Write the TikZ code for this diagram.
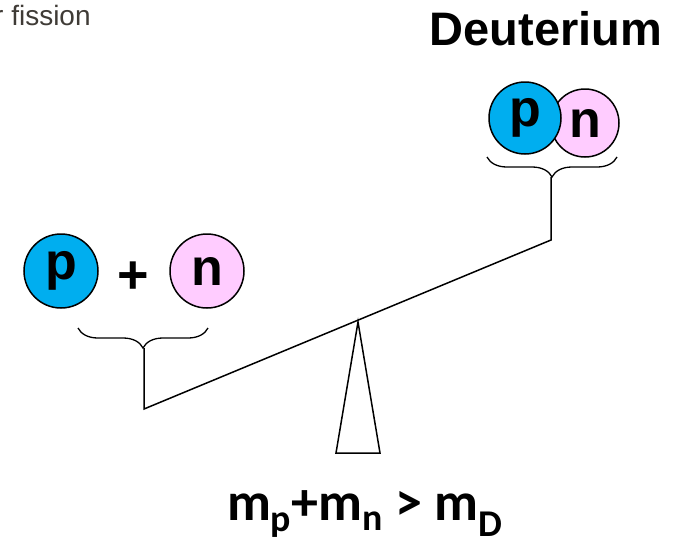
\documentclass[tikz,border=0pt]{standalone}
\usepackage{fontspec}
\setmainfont{Liberation Sans}
\newfontfamily\dtFormula{Carlito}
\usetikzlibrary{decorations.pathreplacing}
\definecolor{dtInk}{HTML}{000000}
\definecolor{dtProton}{HTML}{00AEEF}
\definecolor{dtNeutron}{HTML}{FFCCFF}
\definecolor{dtCaption}{HTML}{3F3B36}
\tikzset{
  nucleon/.style={
    circle, draw=dtInk, line width=1.5pt, minimum size=74pt, inner sep=0pt,
    font=\fontsize{52}{52}\selectfont\bfseries,
  },
  proton/.style={nucleon, fill=dtProton},
  neutron/.style={nucleon, fill=dtNeutron},
  dtbrace/.style={
    decorate, decoration={brace, amplitude=20pt}, draw=dtInk, line width=1.3pt,
  },
  dtline/.style={draw=dtInk, line width=1.5pt},
}

\begin{document}
\begin{tikzpicture}[x=1pt, y=-1pt]
\useasboundingbox (0,0) rectangle (677,549);
\clip (0,0) rectangle (677,549);

% Captions ----------------------------------------------------------------
\node[anchor=west, text=dtCaption, font=\fontsize{28}{28}\selectfont, inner sep=0pt]
  (cap) at (-6,15) {r fission};
\node[font=\fontsize{47}{47}\selectfont\bfseries, inner sep=0pt]
  (deut) at (546,29) {Deuterium};

% Free nucleons -----------------------------------------------------------
\node[proton] (lp) at (61,271) {p};
\node[neutron] (ln) at (207,271) {n};
\node[font=\fontsize{54}{54}\selectfont\bfseries] (plus) at (133,278) {+};

% Bound nucleons: neutron behind the proton
\node[neutron, minimum size=68pt] (dn) at (585,123) {n};
\node[proton, minimum size=72pt] (dp) at (525,118) {p};

% Braces and stems --------------------------------------------------------
\draw[dtbrace] (208,328) -- (78,328) coordinate[midway] (lmid);
\draw[dtbrace] (617,157) -- (487,157) coordinate[midway] (rmid);
\coordinate (ltip) at (144,348);
\coordinate (rtip) at (551,177);
\coordinate (lend) at (144,409);
\coordinate (rend) at (551,240);
\draw[dtline] (ltip) -- (lend) -- (rend) -- (rtip);

% Fulcrum -----------------------------------------------------------------
\coordinate (apex) at (358,322);
\coordinate (baseL) at (336,453);
\coordinate (baseR) at (380,453);
\draw[dtline, line join=miter] (apex) -- (baseL) -- (baseR) -- cycle;

% Mass relation -----------------------------------------------------------
\node[font=\dtFormula\fontsize{54}{54}\selectfont\bfseries, inner sep=0pt]
  (rel) at (365,514) {m\textsubscript{p}+m\textsubscript{n} > m\textsubscript{D}};

\end{tikzpicture}
\end{document}
